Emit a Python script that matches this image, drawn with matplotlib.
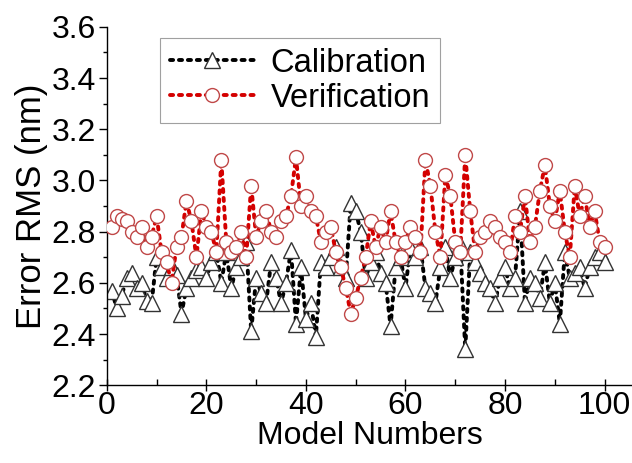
import matplotlib
matplotlib.use("Agg")
import matplotlib.pyplot as plt
from matplotlib.ticker import MultipleLocator

plt.rcParams['font.family'] = ['Liberation Sans', 'DejaVu Sans']

model_numbers = list(range(1, 101))
calibration = [2.57, 2.50, 2.55, 2.62, 2.64, 2.58, 2.60, 2.53, 2.52, 2.70,
               2.66, 2.62, 2.66, 2.63, 2.48, 2.58, 2.62, 2.65, 2.66, 2.62,
               2.68, 2.72, 2.60, 2.72, 2.58, 2.66, 2.70, 2.76, 2.41, 2.62,
               2.56, 2.52, 2.68, 2.62, 2.52, 2.60, 2.73, 2.44, 2.66, 2.46,
               2.52, 2.39, 2.68, 2.66, 2.70, 2.74, 2.66, 2.62, 2.91, 2.88,
               2.80, 2.62, 2.68, 2.72, 2.64, 2.60, 2.43, 2.66, 2.70, 2.58,
               2.74, 2.70, 2.74, 2.58, 2.56, 2.52, 2.66, 2.74, 2.62, 2.70,
               2.75, 2.34, 2.72, 2.68, 2.64, 2.60, 2.58, 2.52, 2.62, 2.66,
               2.58, 2.62, 2.88, 2.52, 2.62, 2.60, 2.54, 2.68, 2.52, 2.60,
               2.44, 2.72, 2.62, 2.64, 2.66, 2.58, 2.66, 2.70, 2.72, 2.68]
verification = [2.82, 2.86, 2.85, 2.84, 2.80, 2.78, 2.82, 2.74, 2.78, 2.86,
                2.72, 2.68, 2.60, 2.74, 2.78, 2.92, 2.84, 2.70, 2.88, 2.82,
                2.80, 2.72, 3.08, 2.76, 2.72, 2.74, 2.80, 2.70, 2.98, 2.78,
                2.84, 2.88, 2.80, 2.78, 2.84, 2.86, 2.94, 3.09, 2.90, 2.94,
                2.88, 2.86, 2.76, 2.80, 2.82, 2.72, 2.66, 2.58, 2.48, 2.54,
                2.62, 2.70, 2.84, 2.74, 2.82, 2.76, 2.88, 2.76, 2.70, 2.76,
                2.82, 2.78, 2.72, 3.08, 2.98, 2.80, 2.70, 3.02, 2.94, 2.76,
                2.72, 3.10, 2.88, 2.72, 2.78, 2.80, 2.84, 2.82, 2.78, 2.76,
                2.72, 2.86, 2.80, 2.94, 2.76, 2.82, 2.96, 3.06, 2.90, 2.84,
                2.96, 2.80, 2.70, 2.98, 2.86, 2.94, 2.82, 2.88, 2.76, 2.74]

fig = plt.figure(figsize=(6.32, 4.63), dpi=100)
ax = fig.add_axes([0.169, 0.168, 0.831, 0.774])

dot = (0, (0.8, 1.5))
ax.plot(model_numbers, calibration, linestyle=dot, color='black', linewidth=2.8,
        dash_capstyle='round', marker='^', markersize=11, markerfacecolor='white',
        markeredgecolor='#333333', markeredgewidth=1.0, label='Calibration', zorder=2)
ax.plot(model_numbers, verification, linestyle=dot, color='#d40000', linewidth=2.8,
        dash_capstyle='round', marker='o', markersize=10, markerfacecolor='white',
        markeredgecolor='#c04848', markeredgewidth=1.0, label='Verification', zorder=3)

ax.set_xlim(0, 105.5)
ax.set_ylim(2.2, 3.6)
ax.xaxis.set_major_locator(MultipleLocator(20))
ax.xaxis.set_minor_locator(MultipleLocator(10))
ax.yaxis.set_minor_locator(MultipleLocator(0.1))
ax.set_yticks([2.2, 2.4, 2.6, 2.8, 3.0, 3.2, 3.4, 3.6])
ax.set_yticklabels(['2.2', '2.4', '2.6', '2.8', '3.0', '3.2', '3.4', '3.6'])

for s in ['top', 'right']:
    ax.spines[s].set_visible(False)
for s in ['left', 'bottom']:
    ax.spines[s].set_linewidth(1.0)

ax.tick_params(axis='x', which='major', direction='inout', length=8, width=1, labelsize=23, pad=0)
ax.tick_params(axis='x', which='minor', direction='in', length=4, width=1)
ax.tick_params(axis='y', which='major', direction='out', length=6, width=1, labelsize=23, pad=2)
ax.tick_params(axis='y', which='minor', direction='out', length=3, width=1)

ax.set_xlabel('Model Numbers', fontsize=23, labelpad=0)
ax.set_ylabel('Error RMS (nm)', fontsize=25, labelpad=2)

leg = ax.legend(loc='upper left', bbox_to_anchor=(0.101, 0.969), borderaxespad=0,
                fontsize=23.5, frameon=True, fancybox=False, edgecolor='#888888',
                handlelength=2.6, handletextpad=0.5, borderpad=0.3, labelspacing=0.12)
leg.get_frame().set_linewidth(0.8)

fig.savefig('out.png', dpi=100)
